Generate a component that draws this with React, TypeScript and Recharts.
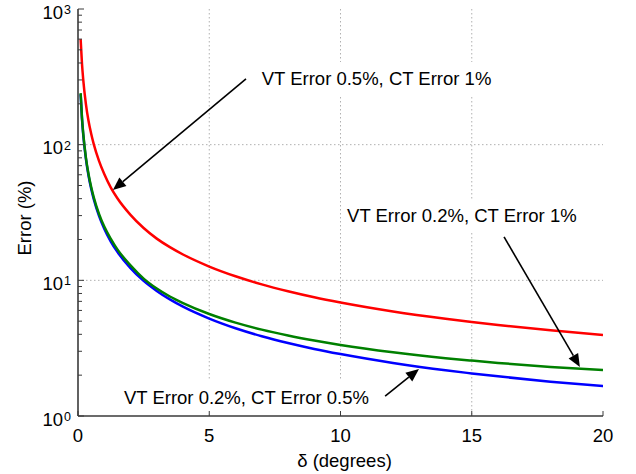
import React from 'react';
import {
  LineChart,
  Line,
  XAxis,
  YAxis,
  CartesianGrid,
  ReferenceLine,
  ReferenceDot,
} from 'recharts';

const deltas = [0.1, 0.15, 0.2, 0.3, 0.4, 0.5, 0.6, 0.8, 1.0, 1.25, 1.5, 2, 2.5, 3, 3.5, 4, 5, 6, 7, 8, 9, 10, 12, 14, 15, 16, 18, 20];
// VT Error 0.5%, CT Error 1%
const redError = [600, 400, 300, 200, 150, 121, 101, 76, 60.8, 48.3, 40.3, 30.4, 24.3, 20.3, 17.55, 15.5, 12.63, 10.71, 9.34, 8.32, 7.51, 6.87, 5.9, 5.21, 4.93, 4.69, 4.28, 3.95];
// VT Error 0.2%, CT Error 1%
const greenError = [240, 160, 120.5, 80.7, 60.8, 48.9, 40.9, 30.9, 24.9, 20.2, 16.9, 12.9, 10.3, 8.7, 7.6, 6.8, 5.65, 4.88, 4.33, 3.92, 3.6, 3.34, 2.95, 2.67, 2.56, 2.46, 2.3, 2.18];
// VT Error 0.2%, CT Error 0.5%
const blueError = [236, 157, 118, 78.8, 59.2, 47.5, 39.7, 29.9, 24.0, 19.3, 16.2, 12.3, 9.9, 8.35, 7.23, 6.39, 5.22, 4.43, 3.87, 3.45, 3.12, 2.86, 2.46, 2.17, 2.06, 1.96, 1.79, 1.66];

const xTicks = [0, 5, 10, 15, 20];
const xGrid = [5, 10, 15];
const yTicks = [1, 2, 3, 4, 5, 6, 7, 8, 9, 10, 20, 30, 40, 50, 60, 70, 80, 90, 100, 200, 300, 400, 500, 600, 700, 800, 900, 1000];
const yGrid = [10, 100];

// annotations in data coordinates: arrow start, arrow tip, text anchor
const annotations = [
  { text: 'VT Error 0.5%, CT Error 1%', from: [6.4, 305], to: [1.33, 46.3], at: [7.0, 305] },
  { text: 'VT Error 0.2%, CT Error 1%', from: [16.23, 20.9], to: [19.12, 2.3], at: [10.25, 29.8] },
  { text: 'VT Error 0.2%, CT Error 0.5%', from: [11.7, 1.404], to: [12.99, 2.22], at: [1.75, 1.38] },
];

const data = deltas.map((d, i) => ({
  d,
  red: redError[i],
  green: greenError[i],
  blue: blueError[i],
}));

const FONT = '"Liberation Sans", Arial, sans-serif';
const FRAME = '#3a3a3a';

const isMajor = (v: number) => Math.abs(Math.log10(v) - Math.round(Math.log10(v))) < 1e-6;

const LeftTick = ({ x, y, payload }: any) => {
  const v = payload.value;
  const major = isMajor(v);
  return (
    <g>
      <line x1={x} x2={x + (major ? 6 : 4)} y1={y} y2={y} stroke={FRAME} strokeWidth={1} />
      {major && (
        <>
          <text x={x - 15} y={y + 9.5} textAnchor="end" fontSize={18.5} fontFamily={FONT} fill="#000">10</text>
          <text x={x - 14} y={y + 5} textAnchor="start" fontSize={12.5} fontFamily={FONT} fill="#000">
            {Math.round(Math.log10(v))}
          </text>
        </>
      )}
    </g>
  );
};

const RightTick = ({ x, y, payload }: any) => {
  const major = isMajor(payload.value);
  return <line x1={x} x2={x - (major ? 6 : 4)} y1={y} y2={y} stroke={FRAME} strokeWidth={1} />;
};

const BottomTick = ({ x, y, payload }: any) => (
  <g>
    <line x1={x} x2={x} y1={y} y2={y - 5} stroke={FRAME} strokeWidth={1} />
    <text x={x} y={y + 25.5} textAnchor="middle" fontSize={18.5} fontFamily={FONT} fill="#000">
      {payload.value}
    </text>
  </g>
);

const TopTick = ({ x, y }: any) => (
  <line x1={x} x2={x} y1={y} y2={y + 5} stroke={FRAME} strokeWidth={1} />
);

const Arrow = (props: any) => {
  const { x1, y1, x2, y2 } = props;
  if (x1 == null) return null;
  const dx = x2 - x1;
  const dy = y2 - y1;
  const len = Math.sqrt(dx * dx + dy * dy);
  const ux = dx / len;
  const uy = dy / len;
  const hl = 13;
  const hw = 5.5;
  const bx = x2 - ux * hl;
  const by = y2 - uy * hl;
  return (
    <g>
      <line x1={x1} y1={y1} x2={bx} y2={by} stroke="#000" strokeWidth={1.6} />
      <polygon
        points={`${x2},${y2} ${bx - uy * hw},${by + ux * hw} ${bx + uy * hw},${by - ux * hw}`}
        fill="#000"
      />
    </g>
  );
};

const makeLabel = (text: string) => (props: any) => {
  const { cx, cy } = props;
  if (cx == null) return null;
  const w = text.length * 9.4;
  return (
    <g>
      <rect x={cx - 6} y={cy - 17} width={w} height={34} fill="#fff" />
      <text x={cx} y={cy + 6.5} fontSize={18.5} fontFamily={FONT} fill="#000">{text}</text>
    </g>
  );
};

export default function App() {
  return (
    <div style={{ position: 'absolute', left: 0, top: 0, width: 636, height: 474, background: '#fff' }}>
      <LineChart width={636} height={474} data={data} margin={{ top: 9, right: 33, bottom: 0, left: 0 }}>
        <CartesianGrid
          horizontalValues={yGrid}
          verticalValues={xGrid}
          stroke="#b0b0b0"
          strokeDasharray="1.5 2.5"
        />
        <XAxis
          dataKey="d"
          type="number"
          domain={[0, 20]}
          ticks={xTicks}
          allowDataOverflow
          height={58}
          tickSize={0}
          tickMargin={0}
          axisLine={{ stroke: FRAME, strokeWidth: 1.6 }}
          tickLine={false}
          tick={<BottomTick />}
          interval={0}
          label={{
            content: (p: any) => {
              const vb = p.viewBox;
              return (
                <text x={vb.x + vb.width / 2 + 4} y={vb.y + 51} textAnchor="middle" fontSize={18.5} fontFamily={FONT} fill="#000">
                  δ (degrees)
                </text>
              );
            },
          }}
        />
        <XAxis
          xAxisId="t"
          orientation="top"
          dataKey="d"
          type="number"
          domain={[0, 20]}
          ticks={xTicks}
          allowDataOverflow
          height={0}
          tickSize={0}
          tickMargin={0}
          axisLine={{ stroke: FRAME, strokeWidth: 1.6 }}
          tickLine={false}
          tick={<TopTick />}
          interval={0}
        />
        <YAxis
          scale="log"
          type="number"
          domain={[1, 1000]}
          ticks={yTicks}
          allowDataOverflow
          width={78}
          tickSize={0}
          tickMargin={0}
          axisLine={{ stroke: FRAME, strokeWidth: 1.6 }}
          tickLine={false}
          tick={<LeftTick />}
          interval={0}
          label={{
            content: () => (
              <text x={31} y={218} transform="rotate(-90 31 218)" textAnchor="middle" fontSize={18.5} fontFamily={FONT} fill="#000">
                Error (%)
              </text>
            ),
          }}
        />
        <YAxis
          yAxisId="r"
          orientation="right"
          scale="log"
          type="number"
          domain={[1, 1000]}
          ticks={yTicks}
          allowDataOverflow
          width={0}
          tickSize={0}
          tickMargin={0}
          axisLine={{ stroke: FRAME, strokeWidth: 1.6 }}
          tickLine={false}
          tick={<RightTick />}
          interval={0}
        />
        <Line dataKey="blue" type="monotone" stroke="#0000ff" strokeWidth={2.5} dot={false} isAnimationActive={false} />
        <Line dataKey="green" type="monotone" stroke="#008000" strokeWidth={2.5} dot={false} isAnimationActive={false} />
        <Line dataKey="red" type="monotone" stroke="#ff0000" strokeWidth={2.5} dot={false} isAnimationActive={false} />
        {annotations.map((a) => (
          <ReferenceDot key={'t' + a.text} x={a.at[0]} y={a.at[1]} r={0} shape={makeLabel(a.text)} />
        ))}
        {annotations.map((a) => (
          <ReferenceLine
            key={'a' + a.text}
            segment={[{ x: a.from[0], y: a.from[1] }, { x: a.to[0], y: a.to[1] }]}
            shape={Arrow}
          />
        ))}
      </LineChart>
    </div>
  );
}
